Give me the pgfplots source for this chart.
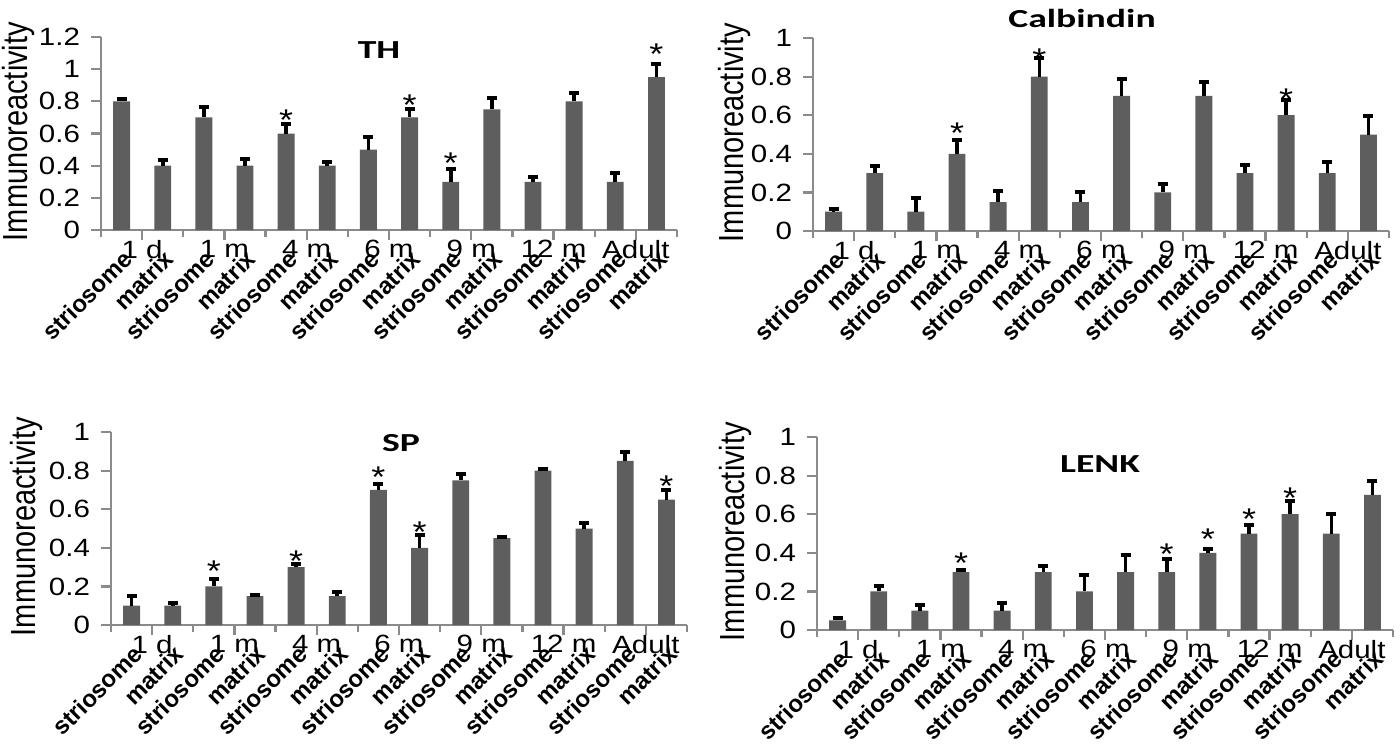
\documentclass[border=0pt]{standalone}
\usepackage{fontspec}
\setmainfont{Liberation Sans}
\newfontfamily\titlefont{Carlito}
\usepackage{graphicx}
\usepackage{pgfplots}
\usepackage{pgfplotstable}
\pgfplotsset{compat=1.18}

\definecolor{barfill}{HTML}{5E5E5E}
\definecolor{axisgray}{HTML}{8A8A8A}

% the original figure is stretched sideways a little
\newcommand{\sx}[1]{\scalebox{1.18}[1]{#1}}

% bars: position, mean, upper error
\pgfplotstableread{
x y e
0 0.80 0.015
1 0.40 0.035
2 0.70 0.066
3 0.40 0.040
4 0.60 0.062
5 0.40 0.025
6 0.50 0.080
7 0.70 0.050
8 0.30 0.080
9 0.75 0.068
10 0.30 0.027
11 0.80 0.050
12 0.30 0.055
13 0.95 0.080
}\thdata
\pgfplotstableread{
x y
4 0.722
7 0.814
8 0.454
13 1.128
}\thstars

\pgfplotstableread{
x y e
0 0.10 0.012
1 0.30 0.035
2 0.10 0.070
3 0.40 0.070
4 0.15 0.058
5 0.80 0.095
6 0.15 0.050
7 0.70 0.086
8 0.20 0.043
9 0.70 0.070
10 0.30 0.043
11 0.60 0.078
12 0.30 0.055
13 0.50 0.095
}\caldata
\pgfplotstableread{
x y
3 0.538
5 0.922
11 0.716
}\calstars

\pgfplotstableread{
x y e
0 0.10 0.048
1 0.10 0.013
2 0.20 0.040
3 0.15 0.006
4 0.30 0.018
5 0.15 0.022
6 0.70 0.033
7 0.40 0.064
8 0.75 0.035
9 0.45 0.008
10 0.80 0.008
11 0.50 0.026
12 0.85 0.044
13 0.65 0.048
}\spdata
\pgfplotstableread{
x y
2 0.310
4 0.362
6 0.797
7 0.514
13 0.750
}\spstars

\pgfplotstableread{
x y e
0 0.05 0.012
1 0.20 0.026
2 0.10 0.029
3 0.30 0.009
4 0.10 0.041
5 0.30 0.033
6 0.20 0.086
7 0.30 0.090
8 0.30 0.069
9 0.40 0.022
10 0.50 0.043
11 0.60 0.069
12 0.50 0.100
13 0.70 0.072
}\lenkdata
\pgfplotstableread{
x y
3 0.379
8 0.422
9 0.503
10 0.603
11 0.716
}\lenkstars

\pgfplotsset{
  panel/.style={
    scale only axis, width=288pt, height=96.5pt,
    xmin=-0.5, xmax=13.5, ymin=0,
    axis x line=bottom, axis y line=left,
    axis line style={-, draw=axisgray, line width=1.1pt},
    tick align=outside,
    major tick length=5pt, minor tick length=3.5pt,
    tick style={draw=axisgray, line width=1.1pt},
    xtick={0.5,2.5,...,12.5},
    xticklabels={\sx{1 d},\sx{1 m},\sx{4 m},\sx{6 m},\sx{9 m},\sx{12 m},\sx{Adult}},
    minor xtick={-0.5,1.5,...,13.5},
    extra x ticks={0,...,13},
    extra x tick labels={striosome,matrix,striosome,matrix,striosome,matrix,striosome,matrix,striosome,matrix,striosome,matrix,striosome,matrix},
    extra x tick style={major tick length=0pt,
      x tick label style={yshift=-8.5pt, rotate=45, anchor=north east,
        font=\bfseries\fontsize{12}{13}\selectfont}},
    x tick label style={font=\fontsize{12.5}{13}\selectfont, inner sep=1pt, yshift=1pt},
    yticklabel={\sx{\pgfmathprintnumber{\tick}}},
    y tick label style={font=\fontsize{12.5}{13}\selectfont, xshift=-2pt},
    /pgf/number format/assume math mode=true,
    /pgf/number format/fixed,
    ylabel={Immunoreactivity},
    every axis y label/.style={xscale=1.2, rotate=90, anchor=center,
      font=\fontsize{14.5}{16}\selectfont},
    clip=false,
  },
  bars/.style={ybar, bar width=0.41, fill=barfill, draw=none,
    error bars/.cd, y dir=plus, y explicit, error mark=-,
    error bar style={draw=black, line width=1.8pt},
    error mark options={draw=black, rotate=90, mark size=2.5pt, line width=2pt}},
  stars/.style={draw=none, mark=none, nodes near coords={*},
    every node near coord/.append style={anchor=center, yshift=-3pt,
      inner sep=0pt, font=\fontsize{15}{16}\selectfont, xscale=1.2}},
}
\tikzset{ttl/.style={font=\titlefont\bfseries\fontsize{13}{14}\selectfont, xscale=1.45}}

\begin{document}
\begin{tikzpicture}
\useasboundingbox (0,0) rectangle (700pt,373pt);

\begin{axis}[panel, at={(50.5pt,258pt)}, anchor=south west,
  ymax=1.2, ytick={0,0.2,...,1.2},
  every axis y label/.append style={at={(axis description cs:-0.144,0.51)}}]
\addplot[bars] table[x=x, y=y, y error=e] {\thdata};
\addplot[stars] table[x=x, y=y] {\thstars};
\end{axis}

\begin{axis}[panel, at={(406.5pt,257.5pt)}, anchor=south west,
  ymax=1, ytick={0,0.2,...,1},
  every axis y label/.append style={at={(axis description cs:-0.137,0.51)}}]
\addplot[bars] table[x=x, y=y, y error=e] {\caldata};
\addplot[stars] table[x=x, y=y] {\calstars};
\end{axis}

\begin{axis}[panel, at={(55.5pt,60.5pt)}, anchor=south west,
  ymax=1, ytick={0,0.2,...,1},
  every axis y label/.append style={at={(axis description cs:-0.146,0.51)}}]
\addplot[bars] table[x=x, y=y, y error=e] {\spdata};
\addplot[stars] table[x=x, y=y] {\spstars};
\end{axis}

\begin{axis}[panel, at={(408.5pt,58pt)}, anchor=south west,
  ymax=1, ytick={0,0.2,...,1},
  every axis y label/.append style={at={(axis description cs:-0.141,0.51)}}]
\addplot[bars] table[x=x, y=y, y error=e] {\lenkdata};
\addplot[stars] table[x=x, y=y] {\lenkstars};
\end{axis}

% panel titles
\node[ttl] at (189.5pt,348pt) {TH};
\node[ttl] at (541pt,364pt) {Calbindin};
\node[ttl] at (200.5pt,151.5pt) {SP};
\node[ttl] at (550pt,141pt) {LENK};
\end{tikzpicture}
\end{document}
